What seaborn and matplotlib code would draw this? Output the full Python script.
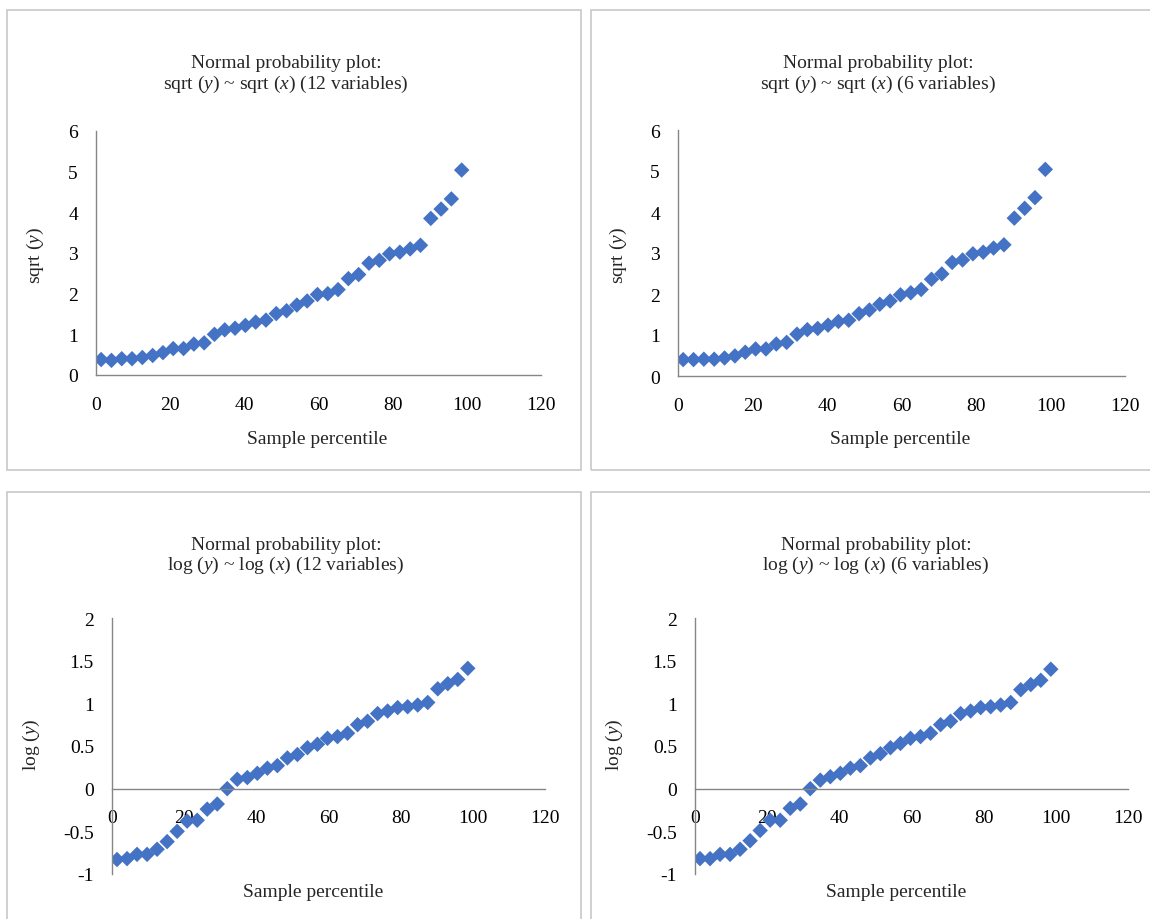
import matplotlib
matplotlib.use("Agg")
import matplotlib.pyplot as plt
from matplotlib.patches import Rectangle
import seaborn as sns
import pandas as pd

# sample percentiles (same for all four panels)
percentile = [1.39, 4.17, 6.94, 9.72, 12.5, 15.28, 18.06, 20.83, 23.61, 26.39,
              29.17, 31.94, 34.72, 37.5, 40.28, 43.06, 45.83, 48.61, 51.39, 54.17,
              56.94, 59.72, 62.5, 65.28, 68.06, 70.83, 73.61, 76.39, 79.17, 81.94,
              84.72, 87.5, 90.28, 93.06, 95.83, 98.61]

sqrt_12 = [0.38, 0.36, 0.40, 0.40, 0.43, 0.48, 0.55, 0.65, 0.65, 0.76,
           0.79, 1.00, 1.11, 1.15, 1.22, 1.30, 1.35, 1.51, 1.58, 1.72,
           1.82, 1.98, 2.00, 2.10, 2.37, 2.47, 2.75, 2.82, 2.98, 3.02,
           3.10, 3.19, 3.85, 4.08, 4.33, 5.04]

sqrt_6 = [0.40, 0.40, 0.41, 0.41, 0.44, 0.49, 0.58, 0.66, 0.66, 0.78,
          0.82, 1.02, 1.13, 1.16, 1.24, 1.33, 1.36, 1.52, 1.61, 1.75,
          1.83, 1.98, 2.03, 2.11, 2.36, 2.49, 2.77, 2.83, 2.98, 3.02,
          3.12, 3.20, 3.85, 4.09, 4.35, 5.04]

log_12 = [-0.83, -0.82, -0.77, -0.77, -0.71, -0.62, -0.50, -0.38, -0.37, -0.24,
          -0.18, 0.00, 0.11, 0.13, 0.18, 0.24, 0.27, 0.36, 0.40, 0.48,
          0.52, 0.59, 0.61, 0.65, 0.75, 0.79, 0.88, 0.91, 0.95, 0.96,
          0.98, 1.01, 1.17, 1.23, 1.28, 1.41]

log_6 = [-0.82, -0.82, -0.77, -0.77, -0.71, -0.61, -0.49, -0.37, -0.37, -0.23,
         -0.18, 0.00, 0.10, 0.14, 0.18, 0.24, 0.27, 0.36, 0.41, 0.48,
         0.53, 0.59, 0.61, 0.65, 0.75, 0.79, 0.88, 0.91, 0.95, 0.96,
         0.98, 1.01, 1.16, 1.22, 1.27, 1.40]

sns.set_style("white")
plt.rcParams["font.family"] = ["Liberation Serif", "DejaVu Serif"]
plt.rcParams["mathtext.fontset"] = "custom"
plt.rcParams["mathtext.rm"] = "Liberation Serif"
plt.rcParams["mathtext.it"] = "Liberation Serif:italic"
plt.rcParams["axes.unicode_minus"] = False

W, H = 1150, 920
fig = plt.figure(figsize=(11.5, 9.2), dpi=100)

blue = "#4472C4"
grey = "#868686"


def px(x, y):
    return x / W, 1 - y / H


# panel frames
for (x0, y0, x1, y1) in [(7, 11, 581, 471), (591, 11, 1160, 471),
                         (7, 493, 581, 930), (591, 493, 1160, 930)]:
    fig.patches.append(Rectangle((x0 / W, 1 - y1 / H), (x1 - x0) / W, (y1 - y0) / H,
                                 transform=fig.transFigure, fill=False,
                                 edgecolor="#C8C8C8", linewidth=1.2))

panels = [
    # axes rect (px: left, top, right, bottom), values, y limits, y ticks, labels
    dict(rect=(96, 132, 541, 376), y=sqrt_12, ylim=(0, 6), yticks=[0, 1, 2, 3, 4, 5, 6],
         title="sqrt ($y$) ~ sqrt ($x$) (12 variables)", tc=286, ty=(64, 84),
         ylab="sqrt ($y$)", yl=(35, 255), xl=(317, 440), log=False),
    dict(rect=(678, 131, 1125, 377), y=sqrt_6, ylim=(0, 6), yticks=[0, 1, 2, 3, 4, 5, 6],
         title="sqrt ($y$) ~ sqrt ($x$) (6 variables)", tc=878, ty=(64, 84),
         ylab="sqrt ($y$)", yl=(618, 255), xl=(900, 440), log=False),
    dict(rect=(112, 619, 545, 875), y=log_12, ylim=(-1, 2), yticks=[-1, -0.5, 0, 0.5, 1, 1.5, 2],
         title="log ($y$) ~ log ($x$) (12 variables)", tc=286, ty=(546, 565),
         ylab="log ($y$)", yl=(31, 745), xl=(313, 893), log=True),
    dict(rect=(695, 619, 1128, 875), y=log_6, ylim=(-1, 2), yticks=[-1, -0.5, 0, 0.5, 1, 1.5, 2],
         title="log ($y$) ~ log ($x$) (6 variables)", tc=876, ty=(546, 565),
         ylab="log ($y$)", yl=(614, 745), xl=(896, 893), log=True),
]

for p in panels:
    l, t, r, b = p["rect"]
    ax = fig.add_axes([l / W, 1 - b / H, (r - l) / W, (b - t) / H])
    df = pd.DataFrame({"pct": percentile, "val": p["y"]})
    sns.scatterplot(data=df, x="pct", y="val", ax=ax, marker="D", s=62,
                    color=blue, edgecolor="none", linewidth=0)
    ax.set_xlim(0, 120)
    ax.set_ylim(*p["ylim"])
    ax.set_xticks([0, 20, 40, 60, 80, 100, 120])
    ax.set_yticks(p["yticks"])
    ax.set_yticklabels([f"{v:g}" for v in p["yticks"]])
    ax.set_xlabel("")
    ax.set_ylabel("")
    ax.set_facecolor("none")
    for s in ["top", "right"]:
        ax.spines[s].set_visible(False)
    for s in ["left", "bottom"]:
        ax.spines[s].set_color(grey)
        ax.spines[s].set_linewidth(1)
    if p["log"]:
        ax.spines["bottom"].set_position(("data", 0))
    ax.tick_params(axis="both", direction="out", length=5, width=1, color=grey,
                   labelsize=14, labelcolor="black", pad=8)
    ax.tick_params(axis="x", pad=10)

    fig.text(*px(p["tc"], p["ty"][0]), "Normal probability plot:", ha="center",
             va="center", fontsize=14)
    fig.text(*px(p["tc"], p["ty"][1]), p["title"], ha="center", va="center", fontsize=14)
    fig.text(*px(*p["yl"]), p["ylab"], ha="center", va="center", rotation=90, fontsize=14)
    fig.text(*px(*p["xl"]), "Sample percentile", ha="center", va="center", fontsize=14)

fig.savefig("out.png", dpi=100)
